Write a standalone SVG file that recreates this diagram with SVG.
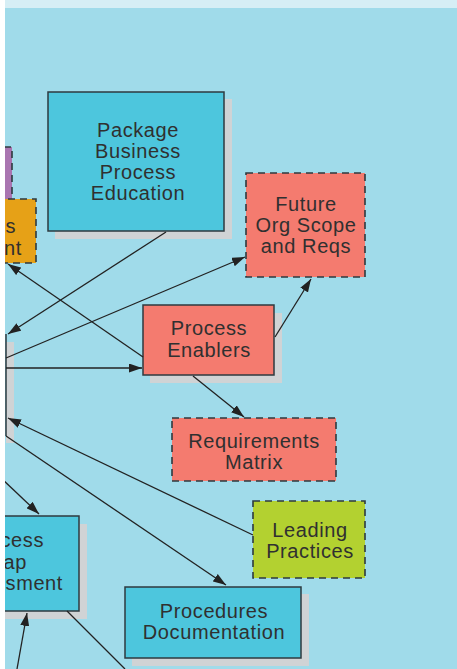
<svg xmlns="http://www.w3.org/2000/svg" width="457" height="669" viewBox="0 0 457 669">
<defs>
<style>
.t{font-family:"Liberation Sans",Arial,sans-serif;font-size:20px;letter-spacing:0.6px;fill:#303030;text-anchor:middle}
.te{font-family:"Liberation Sans",Arial,sans-serif;font-size:20px;letter-spacing:0.6px;fill:#303030;text-anchor:end}
.sh{fill:#d0d3d5}
.box{stroke:#2e3a3f;stroke-width:1.5}
.dash{stroke:#2e3a3f;stroke-width:1.6;stroke-dasharray:7 5}
.cyan{fill:#4dc6dd}
.salmon{fill:#f47b6f}
.lime{fill:#b3d130}
.orange{fill:#e6a117}
.purple{fill:#a975b0}
.c{stroke:#222;stroke-width:1.3;fill:none}
</style>
<marker id="ah" viewBox="0 0 13 9" refX="13" refY="4.5" markerWidth="13" markerHeight="9" markerUnits="userSpaceOnUse" orient="auto">
<path d="M0,0 L13,4.5 L0,9 Z" fill="#222"/>
</marker>
</defs>
<rect x="0" y="0" width="457" height="669" fill="#ffffff"/>
<rect x="5" y="0" width="452" height="669" fill="#a0dbea"/>
<rect x="5" y="0" width="452" height="8" fill="#d6eef5"/>

<g id="central">
<rect class="sh" x="6" y="342" width="8" height="101"/>
<line x1="6" y1="334" x2="6" y2="436" stroke="#2e3a3f" stroke-width="1.5"/>
</g>

<g id="purple-node">
<rect class="purple dash" x="-20" y="147" width="32" height="64"/>
</g>

<g id="orange-node">
<rect class="orange dash" x="-40" y="199" width="76" height="64"/>
<text class="te" x="16" y="233">s</text>
<text class="te" x="22" y="255">nt</text>
</g>

<g id="package-education">
<rect class="sh" x="55" y="99" width="177" height="140"/>
<rect class="cyan box" x="48" y="92" width="176" height="139"/>
<text class="t" x="138" y="137">Package</text>
<text class="t" x="138" y="158">Business</text>
<text class="t" x="138" y="179">Process</text>
<text class="t" x="138" y="200">Education</text>
</g>

<g id="future-org">
<rect class="salmon dash" x="246" y="173" width="119" height="104"/>
<text class="t" x="306" y="211">Future</text>
<text class="t" x="306" y="232">Org Scope</text>
<text class="t" x="306" y="253">and Reqs</text>
</g>

<g id="process-enablers">
<rect class="sh" x="150" y="313" width="132" height="70"/>
<rect class="salmon box" x="143" y="305" width="131" height="70"/>
<text class="t" x="209" y="335">Process</text>
<text class="t" x="209" y="357">Enablers</text>
</g>

<g id="requirements-matrix">
<rect class="salmon dash" x="172" y="418" width="164" height="63"/>
<text class="t" x="254" y="448">Requirements</text>
<text class="t" x="254" y="469">Matrix</text>
</g>

<g id="leading-practices">
<rect class="lime dash" x="253" y="501" width="112" height="77"/>
<text class="t" x="310" y="537">Leading</text>
<text class="t" x="310" y="558">Practices</text>
</g>

<g id="process-gap">
<rect class="sh" x="-58" y="524" width="145" height="95"/>
<rect class="cyan box" x="-66" y="516" width="145" height="95"/>
<text class="te" x="44" y="547">cess</text>
<text class="te" x="27" y="569">ap</text>
<text class="te" x="63" y="590">sment</text>
</g>

<g id="procedures-doc">
<rect class="sh" x="132" y="594" width="177" height="72"/>
<rect class="cyan box" x="125" y="587" width="176" height="71"/>
<text class="t" x="214" y="618">Procedures</text>
<text class="t" x="214" y="639">Documentation</text>
</g>

<g id="connectors">
<line class="c" x1="166" y1="232" x2="8" y2="334" marker-end="url(#ah)"/>
<line class="c" x1="143" y1="357" x2="8" y2="264" marker-end="url(#ah)"/>
<line class="c" x1="6" y1="358" x2="245" y2="257" marker-end="url(#ah)"/>
<line class="c" x1="6" y1="368" x2="142" y2="368" marker-end="url(#ah)"/>
<line class="c" x1="275" y1="337" x2="311" y2="279" marker-end="url(#ah)"/>
<line class="c" x1="193" y1="376" x2="244" y2="417" marker-end="url(#ah)"/>
<line class="c" x1="253" y1="535" x2="8" y2="418" marker-end="url(#ah)"/>
<line class="c" x1="6" y1="436" x2="226" y2="585" marker-end="url(#ah)"/>
<line class="c" x1="0" y1="477" x2="39" y2="514" marker-end="url(#ah)"/>
<line class="c" x1="17" y1="669" x2="27" y2="613" marker-end="url(#ah)"/>
<line class="c" x1="67" y1="611" x2="125" y2="669"/>
</g>

<rect x="0" y="0" width="5" height="669" fill="#ffffff"/>
</svg>
